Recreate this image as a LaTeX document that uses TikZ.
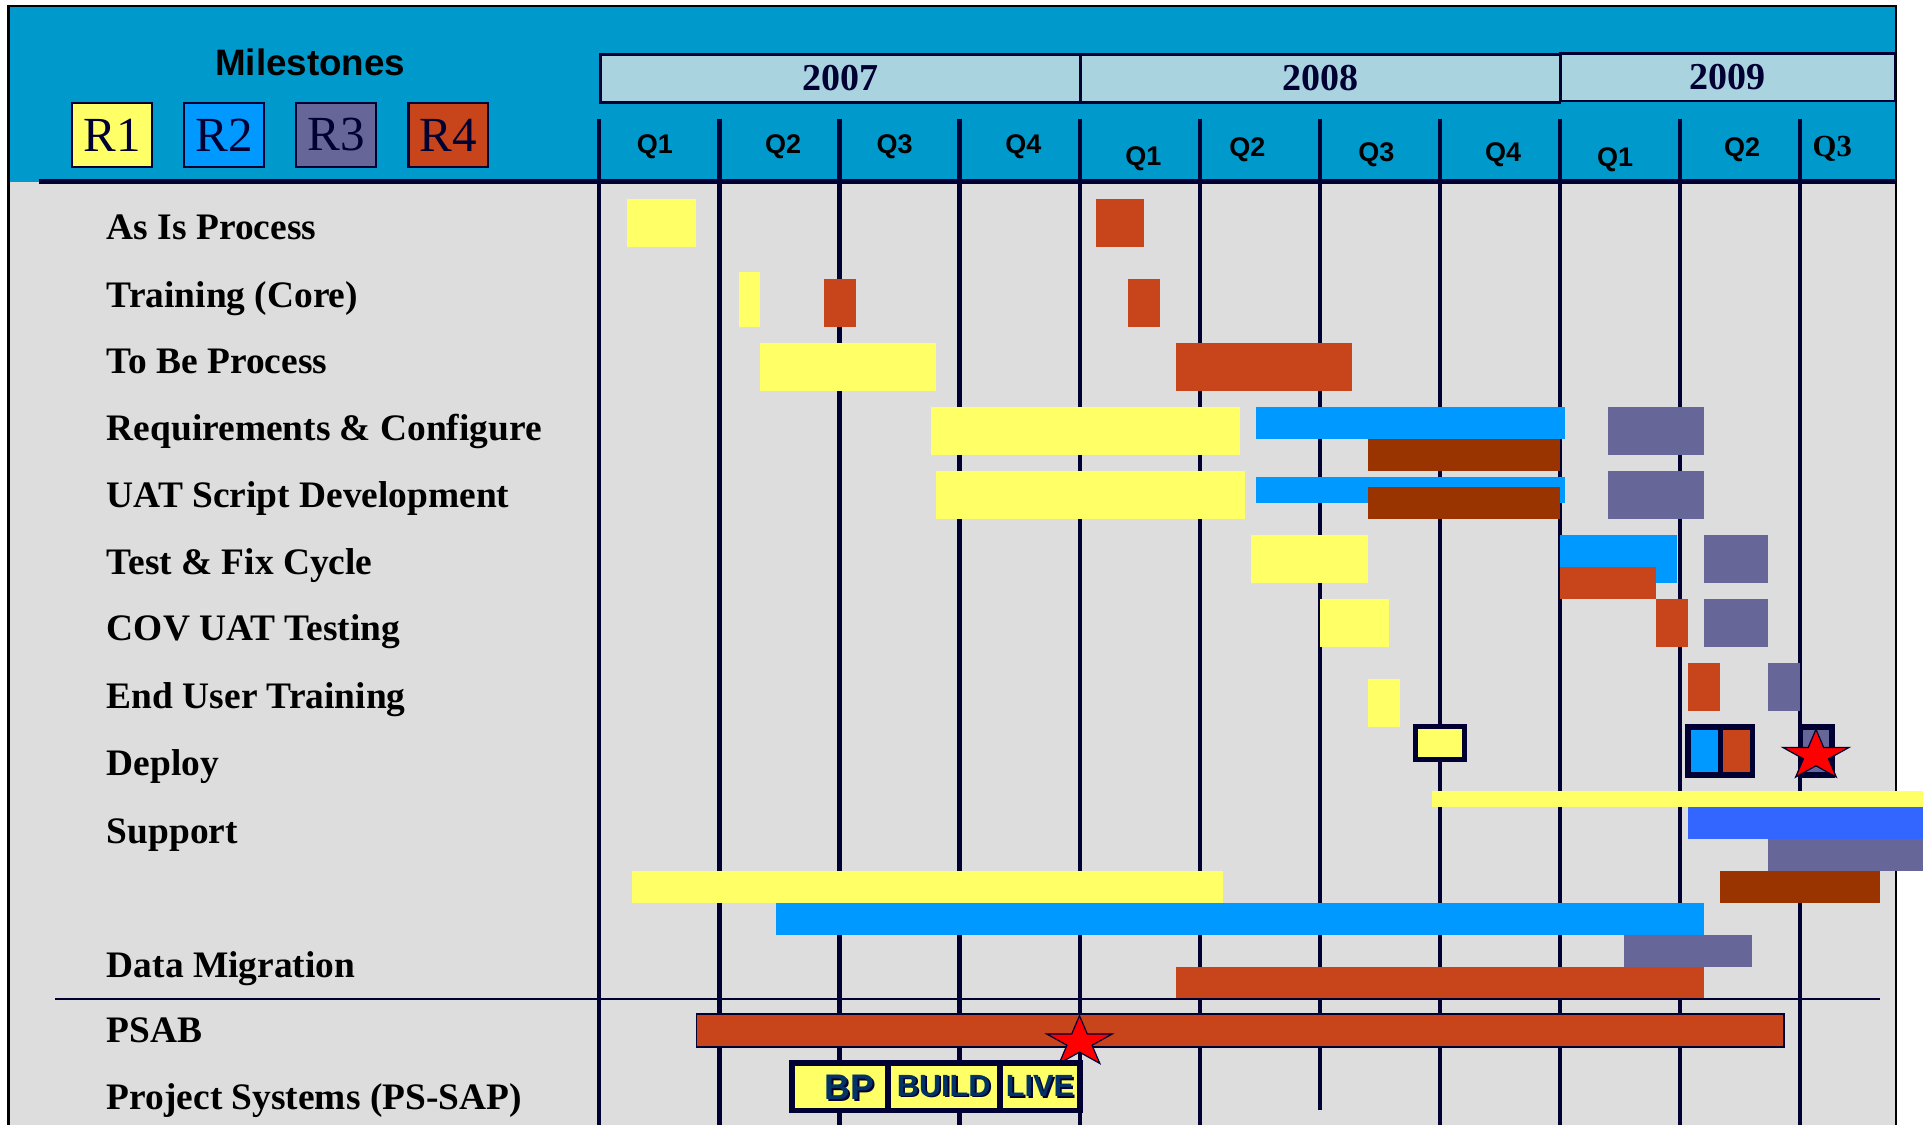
\documentclass[tikz,border=0pt]{standalone}
\usepackage{fontspec}
\setmainfont{Liberation Serif}
\setsansfont{Liberation Sans}
\usetikzlibrary{shapes.geometric}

\definecolor{headblue}{RGB}{0,153,204}
\definecolor{chartgray}{RGB}{221,221,221}
\definecolor{navy}{RGB}{0,0,51}
\definecolor{rone}{RGB}{255,255,102}
\definecolor{rtwo}{RGB}{0,153,255}
\definecolor{rthree}{RGB}{102,102,153}
\definecolor{rfour}{RGB}{200,68,26}
\definecolor{rust}{RGB}{153,51,0}
\definecolor{supblue}{RGB}{51,102,255}
\definecolor{yearblue}{RGB}{170,211,224}
\definecolor{pstext}{RGB}{0,51,102}

\newcommand{\shadowtext}[1]{\rlap{\hspace{1.5pt}\raisebox{-1.5pt}{\color{navy}#1}}#1}

\begin{document}
\begin{tikzpicture}[x=1pt,y=-1pt]
    \tikzstyle{milestone}=[draw=navy,line width=2pt,minimum width=65pt,minimum height=52pt,inner sep=0pt,text=navy,font=\fontsize{40}{40}\selectfont]
    \tikzstyle{year}=[draw=navy,line width=2pt,fill=yearblue,minimum height=39pt,inner sep=0pt,text=navy,font=\fontsize{31}{31}\selectfont\bfseries]
    \tikzstyle{quarter}=[inner sep=0pt,font=\sffamily\bfseries\fontsize{22}{22}\selectfont]
    \tikzstyle{task}=[anchor=base west,inner sep=0pt,font=\bfseries\fontsize{30.5}{30.5}\selectfont]
    \tikzstyle{grid line}=[draw=navy,line width=3.4pt]
    \tikzstyle{red star}=[star,star points=5,star point ratio=2.618,draw=navy,line width=1pt,fill=red,minimum size=43pt,inner sep=0pt,xscale=1.31]
    \tikzstyle{phase}=[inner sep=0pt,text=pstext,font=\sffamily\bfseries\fontsize{25}{25}\selectfont]

    \useasboundingbox (0,0) rectangle (1568,917);
    \fill[white] (0,0) rectangle (1568,917);
    % Draw the chart area and the header
    \fill[chartgray] (7,5) rectangle (1546,917);
    \fill[headblue] (7,5) rectangle (1546,148);
    \draw[black,line width=2pt] (7,917) -- (7,5) -- (1546,5) -- (1546,917);

    % Quarter lines
    \foreach \q/\b in {0/917,1/917,2/917,3/917,4/917,5/917,6/905,7/917,8/917,9/917,10/917}
        \draw[grid line] ({488.7+97.9*\q},97) -- ({488.7+97.9*\q},\b);
    \draw[navy,line width=4.4pt] (32,148) -- (1546,148);

    % Milestones legend
    \node[inner sep=0pt,font=\sffamily\bfseries\fontsize{30}{30}\selectfont] (ms) at (253,50.5) {Milestones};
    \node[milestone,fill=rone] (r1) at (91.4,110) {R1};
    \node[milestone,fill=rtwo] (r2) at (182.7,110) {R2};
    \node[milestone,fill=rthree] (r3) at (273.9,110) {R3};
    \node[milestone,fill=rfour] (r4) at (365.6,110) {R4};

    % Years and quarters
    \node[year,minimum width=391pt] (y2007) at (685,64) {\raisebox{-2pt}{2007}};
    \node[year,minimum width=391pt] (y2008) at (1076.4,64) {\raisebox{-2pt}{2008}};
    \node[year,minimum width=273pt] (y2009) at (1408.8,63) {\raisebox{-1.5pt}{2009}};
    \node[quarter] (q-1) at (534,119.6) {Q1};
    \node[quarter] (q-2) at (638.5,119.6) {Q2};
    \node[quarter] (q-3) at (729.5,119.6) {Q3};
    \node[quarter] (q-4) at (834.4,119.6) {Q4};
    \node[quarter] (q-5) at (932.3,129.1) {Q1};
    \node[quarter] (q-6) at (1017.1,122.3) {Q2};
    \node[quarter] (q-7) at (1122.2,126.4) {Q3};
    \node[quarter] (q-8) at (1225.6,126.4) {Q4};
    \node[quarter] (q-9) at (1317,129.9) {Q1};
    \node[quarter] (q-10) at (1420.4,122.3) {Q2};
    \node[inner sep=0pt,font=\bfseries\fontsize{25}{25}\selectfont] (q-11) at (1494,121.5) {Q3};

    % Tasks
    \node[task] (t-asis) at (87,195.5) {As Is Process};
    \node[task] (t-train) at (87,250.5) {Training (Core)};
    \node[task] (t-tobe) at (87,304.5) {To Be Process};
    \node[task] (t-req) at (87,359.5) {Requirements \& Configure};
    \node[task] (t-uat) at (87,413.5) {UAT Script Development};
    \node[task] (t-test) at (87,468.5) {Test \& Fix Cycle};
    \node[task] (t-cov) at (87,522.5) {COV UAT Testing};
    \node[task] (t-eut) at (87,577.5) {End User Training};
    \node[task] (t-deploy) at (87,632.5) {Deploy};
    \node[task] (t-support) at (87,687.5) {Support};
    \node[task] (t-data) at (87,797) {Data Migration};
    \node[task] (t-psab) at (87,850) {PSAB};
    \node[task] (t-pssap) at (87,905) {Project Systems (PS-SAP)};

    % R1 bars
    \fill[rone] (511.3,162.3) rectangle (567.7,201.4);
    \fill[rone] (602.6,221.8) rectangle (619.8,266.4);
    \fill[rone] (619.8,279.7) rectangle (763.3,318.6);
    \fill[rone] (759.3,331.9) rectangle (1011.3,371);
    \fill[rone] (763.3,384) rectangle (1015.3,423.2);
    \fill[rone] (1020,436.2) rectangle (1115.5,475.4);
    \fill[rone] (1076.5,488.4) rectangle (1132.6,527.6);
    \fill[rone] (1115.4,553.7) rectangle (1141.4,592.5);
    \fill[rone] (1167.6,645) rectangle (1568,658);
    \fill[rone] (515.5,710.2) rectangle (997.4,736.3);

    % R2 bars
    \fill[rtwo] (1024.1,331.9) rectangle (1276.2,357.9);
    \fill[rtwo] (1024.1,388.9) rectangle (1276.2,410.1);
    \fill[rtwo] (1272.1,436.2) rectangle (1367.6,475.4);
    \fill[supblue] (1376.2,658) rectangle (1568,684.1);
    \fill[rtwo] (632.8,736.3) rectangle (1389.2,762.4);

    % R3 bars
    \fill[rthree] (1311.2,331.9) rectangle (1389.5,371);
    \fill[rthree] (1311.2,384) rectangle (1389.5,423.2);
    \fill[rthree] (1389.5,436.2) rectangle (1441.6,475.4);
    \fill[rthree] (1389.5,488.4) rectangle (1441.6,527.6);
    \fill[rthree] (1441.6,540.6) rectangle (1467.6,579.7);
    \fill[rthree] (1441.6,684.1) rectangle (1568,710.2);
    \fill[rthree] (1324.3,762.4) rectangle (1428.3,788.5);

    % R4 bars
    \fill[rfour] (893.7,162.3) rectangle (932.8,201.4);
    \fill[rfour] (672,227.5) rectangle (698,266.4);
    \fill[rfour] (919.8,227.5) rectangle (945.9,266.4);
    \fill[rfour] (958.9,279.7) rectangle (1102.3,318.6);
    \fill[rust] (1115.5,357.9) rectangle (1272.1,384);
    \fill[rust] (1115.5,397.1) rectangle (1272.1,423.2);
    \fill[rfour] (1272.1,462.3) rectangle (1350.4,488.4);
    \fill[rfour] (1350.4,488.4) rectangle (1376.4,527.6);
    \fill[rfour] (1376.4,540.6) rectangle (1402.5,579.7);
    \fill[rust] (1402.6,710.2) rectangle (1533,736.3);
    \fill[rfour] (959,788.5) rectangle (1389.2,813.8);

    % Deploy milestones
    \draw[navy,line width=4pt,fill=rone] (1154.2,592.3) rectangle (1194.2,619.3);
    \fill[navy] (1374,590.3) rectangle (1431,634.4);
    \fill[rtwo] (1378.8,595.2) rectangle (1400.6,629.5);
    \fill[rfour] (1404.8,595.2) rectangle (1426.6,629.5);
    \fill[navy] (1465.7,590.3) rectangle (1496.1,634.4);
    \fill[rthree] (1470,595.2) rectangle (1491.7,629.5);
    \node[red star] (star-deploy) at (1480.7,616.2) {};

    % PSAB
    \draw[navy,line width=2pt] (45,814.6) -- (1533,814.6);
    \draw[navy,line width=1.5pt,fill=rfour] (567.9,827.1) rectangle (1454.8,854);
    \node[red star] (star-psab) at (880.2,849.7) {};

    % Project Systems phases
    \fill[navy] (643.7,864.3) rectangle (883.1,907.8);
    \fill[rone] (648.4,868.9) rectangle (721.7,903.2);
    \fill[rone] (726.4,868.9) rectangle (812.9,903.2);
    \fill[rone] (817.5,868.9) rectangle (877.8,903.2);
    \node[phase,font=\sffamily\bfseries\fontsize{29}{29}\selectfont] (bp) at (692.5,887.4) {\shadowtext{BP}};
    \node[phase] (build) at (769.5,886) {\shadowtext{BUILD}};
    \node[phase] (live) at (848,886) {\shadowtext{LIVE}};
\end{tikzpicture}
\end{document}
